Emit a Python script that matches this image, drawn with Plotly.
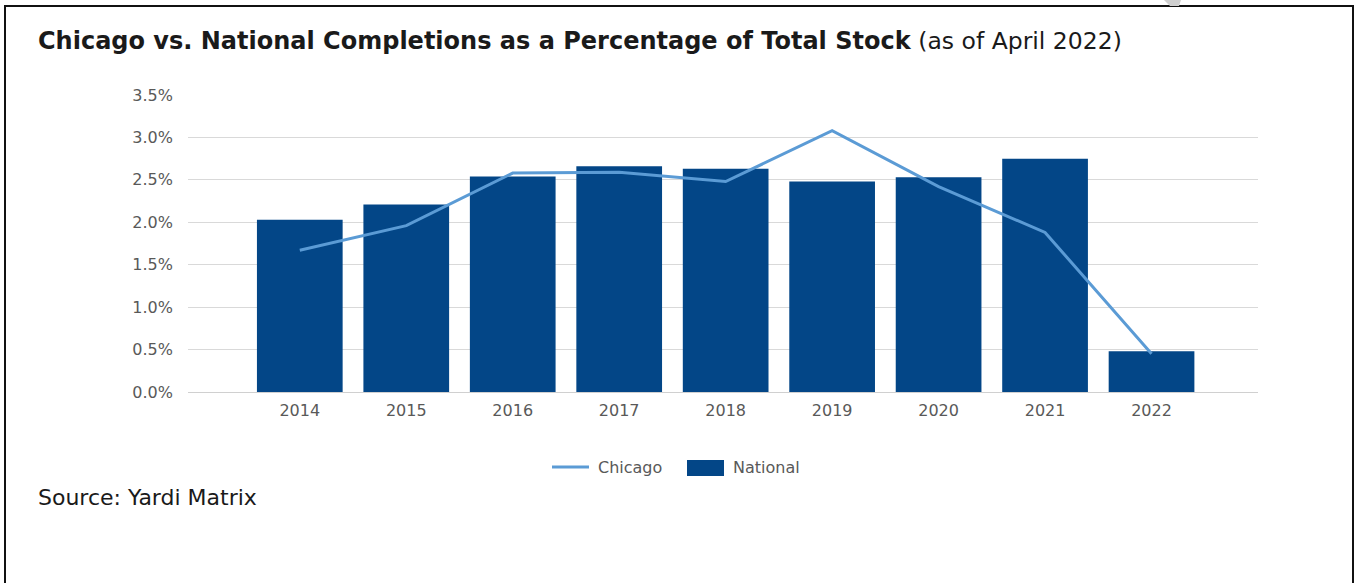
import plotly.graph_objects as go

# Data (% of total stock)
years = [2014, 2015, 2016, 2017, 2018, 2019, 2020, 2021, 2022]
national = [2.03, 2.21, 2.54, 2.66, 2.63, 2.48, 2.53, 2.75, 0.48]
chicago = [1.67, 1.96, 2.58, 2.59, 2.48, 3.08, 2.42, 1.88, 0.45]
y_ticks = [0.0, 0.5, 1.0, 1.5, 2.0, 2.5, 3.0, 3.5]

W, H = 1358, 583
PL, PR, PT, PB = 188, 1258, 95, 392  # plot area in pixels

NAVY = "#034687"
LIGHT = "#5B9BD5"
TXT = "#595959"
FONT = "DejaVu Sans"


def px(x):
    return (x - PL) / (PR - PL)


def py(y):
    return (PB - y) / (PB - PT)


fig = go.Figure()
fig.add_trace(go.Bar(
    x=years, y=national, name="National", marker_color=NAVY,
    marker_line_width=0, width=0.805, showlegend=False,
))
fig.add_trace(go.Scatter(
    x=years, y=chicago, name="Chicago", mode="lines",
    line=dict(color=LIGHT, width=3), showlegend=False,
))

shapes = [
    # outer frame
    dict(type="rect", xref="paper", yref="paper",
         x0=px(5), x1=px(1353), y0=py(600), y1=py(6),
         line=dict(color="#111111", width=2), fillcolor="rgba(0,0,0,0)", layer="below"),
    # small grey wedge at the top edge
    dict(type="path", xref="paper", yref="paper",
         path=f"M {px(1164)} {py(0)} L {px(1181)} {py(0)} L {px(1179)} {py(6)} L {px(1170)} {py(6)} Z",
         fillcolor="#cfcfcf", line=dict(width=0)),
    # legend keys
    dict(type="line", xref="paper", yref="paper",
         x0=px(552), x1=px(589), y0=py(467), y1=py(467),
         line=dict(color=LIGHT, width=3)),
    dict(type="rect", xref="paper", yref="paper",
         x0=px(687), x1=px(724), y0=py(476), y1=py(460),
         fillcolor=NAVY, line=dict(width=0)),
]

annotations = [
    dict(xref="paper", yref="paper", x=px(36), y=py(41), xanchor="left", yanchor="middle",
         showarrow=False,
         text="<b>Chicago vs. National Completions as a Percentage of Total Stock</b>"
              " <span style='font-size:23.5px'>(as of April 2022)</span>",
         font=dict(family=FONT, size=24, color="#1a1a1a")),
    dict(xref="paper", yref="paper", x=px(36), y=py(497), xanchor="left", yanchor="middle",
         showarrow=False, text="Source: Yardi Matrix",
         font=dict(family=FONT, size=22, color="#1a1a1a")),
    dict(xref="paper", yref="paper", x=px(596), y=py(467), xanchor="left", yanchor="middle",
         showarrow=False, text="Chicago", font=dict(family=FONT, size=16, color=TXT)),
    dict(xref="paper", yref="paper", x=px(731), y=py(467), xanchor="left", yanchor="middle",
         showarrow=False, text="National", font=dict(family=FONT, size=16, color=TXT)),
]

fig.update_layout(
    width=W, height=H,
    margin=dict(l=PL, r=W - PR, t=PT, b=H - PB, pad=0),
    paper_bgcolor="white", plot_bgcolor="white",
    shapes=shapes, annotations=annotations,
    font=dict(family=FONT, size=16, color=TXT),
    xaxis=dict(
        range=[2012.95, 2023.0], tickmode="array", tickvals=years,
        ticktext=[str(y) for y in years], showgrid=False, zeroline=False,
        showline=False, ticks="", ticklabelstandoff=7,
        tickfont=dict(family=FONT, size=16, color=TXT),
    ),
    yaxis=dict(
        range=[0, 3.5], tickmode="array", tickvals=y_ticks,
        ticktext=[f"{v:.1f}%" for v in y_ticks],
        showgrid=True, gridcolor="#d9d9d9", gridwidth=1,
        zeroline=True, zerolinecolor="#d0d0d0", zerolinewidth=1,
        showline=False, ticks="", ticklabelstandoff=14,
        tickfont=dict(family=FONT, size=16, color=TXT),
    ),
)

fig.write_html("out.html")
